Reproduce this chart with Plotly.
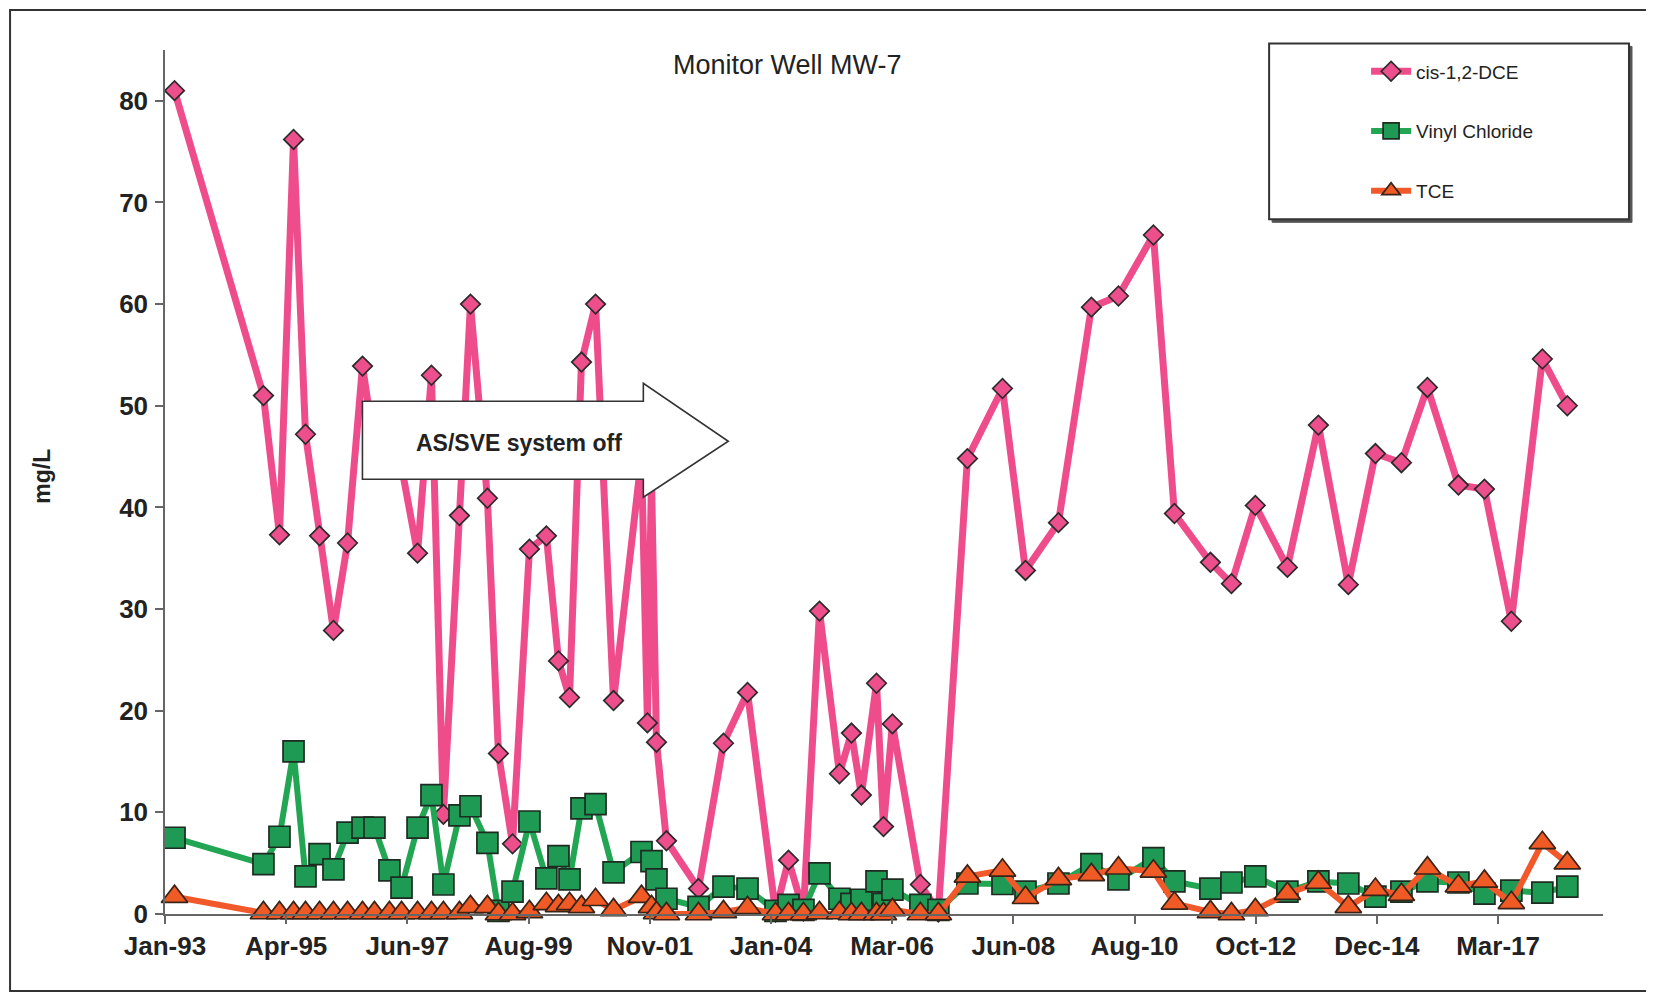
import plotly.graph_objects as go

# ---------------- data ----------------
sample_dates = [
    "1993-03-25", "1994-11-03", "1995-02-17", "1995-05-21", "1995-08-08", "1995-11-09",
    "1996-02-09", "1996-05-12", "1996-08-19", "1996-11-06", "1997-02-13", "1997-05-04",
    "1997-08-18", "1997-11-18", "1998-02-05", "1998-05-22", "1998-08-03", "1998-11-23",
    "1999-02-04", "1999-05-08", "1999-08-28", "1999-12-18", "2000-03-07", "2000-05-19",
    "2000-08-06", "2000-11-07", "2001-03-06", "2001-09-07", "2001-10-16", "2001-11-12",
    "2001-12-15", "2002-02-19", "2002-09-19", "2003-03-03", "2003-08-09", "2004-02-10",
    "2004-05-06", "2004-08-13", "2004-11-27", "2005-04-08", "2005-06-26", "2005-08-31",
    "2005-12-09", "2006-01-24", "2006-03-24", "2006-09-25", "2007-01-22", "2007-08-02",
    "2008-03-21", "2008-08-20", "2009-03-26", "2009-10-30", "2010-04-27", "2010-12-14",
    "2011-05-02", "2011-12-26", "2012-05-13", "2012-10-18", "2013-05-18", "2013-12-09",
    "2014-06-25", "2014-12-21", "2015-06-11", "2015-11-30", "2016-06-22", "2016-12-11",
    "2017-06-07", "2017-12-29", "2018-06-12",
]

cis_dce = [
    81, 51, 37.3, 76.2, 47.2, 37.2, 27.9, 36.5, 53.9, 46, 48, 44,
    35.5, 53, 9.8, 39.2, 60, 40.9, 15.8, 6.9, 35.9, 37.2, 24.9, 21.3,
    54.3, 60, 21, 45, 18.8, 43, 16.9, 7.2, 2.5, 16.8, 21.8, 0.2,
    5.3, 0.3, 29.8, 13.8, 17.8, 11.7, 22.7, 8.6, 18.7, 2.9, 0.2, 44.8,
    51.7, 33.8, 38.5, 59.7, 60.8, 66.8, 39.4, 34.6, 32.5, 40.2, 34.1, 48.1,
    32.4, 45.3, 44.4, 51.8, 42.2, 41.8, 28.8, 54.6, 50,
]

vinyl_chloride = [
    7.5, 4.9, 7.6, 16.0, 3.7, 5.9, 4.4, 8.0, 8.5, 8.5, 4.3, 2.6,
    8.5, 11.7, 2.9, 9.7, 10.6, 7.0, 0.3, 2.2, 9.1, 3.5, 5.7, 3.4,
    10.4, 10.8, 4.1, 6.1, None, 5.2, 3.4, 1.5, 0.7, 2.7, 2.5, 0.3,
    0.9, 0.4, 4.0, 1.5, 1.0, 1.4, 3.2, 1.0, 2.4, 0.9, 0.4, 3.0,
    2.95, 2.2, 3.0, 4.9, 3.4, 5.5, 3.2, 2.5, 3.1, 3.7, 2.2, 3.2,
    3.0, 1.7, 2.2, 3.2, 3.1, 2.0, 2.3, 2.1, 2.7,
]

tce = [
    1.7, 0.1, 0.1, 0.1, 0.1, 0.1, 0.1, 0.1, 0.1, 0.1, 0.1, 0.1,
    0.1, 0.1, 0.1, 0.1, 0.7, 0.7, 0.0, 0.0, 0.2, 1.0, 0.8, 1.0,
    0.7, 1.4, 0.4, 1.7, None, 0.7, 0.1, 0.0, 0.0, 0.2, 0.6, 0.0,
    0.0, 0.0, 0.1, 0.1, 0.0, 0.0, 0.0, 0.0, 0.4, 0.0, 0.0, 3.7,
    4.3, 1.6, 3.45, 3.85, 4.5, 4.2, 1.05, 0.2, 0.0, 0.4, 2.0, 3.1,
    0.7, 2.4, 1.9, 4.5, 2.75, 3.2, 1.1, 7.0, 5.0,
]

tick_dates = [
    "1993-01-21", "1995-04-02", "1997-06-12", "1999-08-22", "2001-11-01", "2004-01-11",
    "2006-03-22", "2008-06-01", "2010-08-11", "2012-10-21", "2014-12-31", "2017-03-11",
]
tick_labels = [
    "Jan-93", "Apr-95", "Jun-97", "Aug-99", "Nov-01", "Jan-04",
    "Mar-06", "Jun-08", "Aug-10", "Oct-12", "Dec-14", "Mar-17",
]
y_ticks = [0, 10, 20, 30, 40, 50, 60, 70, 80]
x_range = ["1993-01-21", "2019-02-03"]
y_range = [0, 85]

FONT = "Liberation Sans, Arial, sans-serif"
TXT = "#222222"

fig = go.Figure()

fig.add_trace(go.Scatter(
    x=sample_dates, y=cis_dce, name="cis-1,2-DCE", legendgroup="a",
    mode="lines+markers", connectgaps=True, cliponaxis=False,
    line=dict(color="#EF4C8B", width=7),
    marker=dict(symbol="diamond", size=15, color="#EC4F8B",
                line=dict(color="#2b2b2b", width=1.7)),
))
fig.add_trace(go.Scatter(
    x=sample_dates, y=vinyl_chloride, name="Vinyl Chloride", legendgroup="b",
    mode="lines+markers", connectgaps=True, cliponaxis=False,
    line=dict(color="#23A654", width=6),
    marker=dict(symbol="square", size=21, color="#1E9A55",
                line=dict(color="#1d2b20", width=1.7)),
))
fig.add_trace(go.Scatter(
    x=sample_dates, y=tce, name="TCE", legendgroup="c",
    mode="lines+markers", connectgaps=True, cliponaxis=False,
    line=dict(color="#F2592A", width=6),
    marker=dict(symbol="triangle-up", size=23, color="#F05A24",
                line=dict(color="#3a2418", width=1.7)),
))

# The page body has an 8px margin, so the figure is drawn 8px smaller and the
# layout below is expressed in page pixels of the reference.
OFF = 8
PL, PR, PT, PB = 164.5, 1603.0, 49.6, 914.0   # plot area in page pixels
W, H = 1654 - OFF, 995 - OFF


def px(x):
    return (x - PL) / (PR - PL)


def py(y):
    return (PB - y) / (PB - PT)


shapes = []
# outer frame
shapes.append(dict(type="rect", xref="paper", yref="paper",
                   x0=px(9.5), x1=px(1649), y0=py(991), y1=py(9.5),
                   line=dict(color="#333333", width=2), fillcolor="rgba(0,0,0,0)",
                   layer="below"))
# legend box (shadow + box)
shapes.append(dict(type="rect", xref="paper", yref="paper",
                   x0=px(1272), x1=px(1632), y0=py(222), y1=py(46),
                   line=dict(color="#555555", width=1), fillcolor="#555555", layer="above"))
shapes.append(dict(type="rect", xref="paper", yref="paper",
                   x0=px(1269), x1=px(1629), y0=py(219), y1=py(43),
                   line=dict(color="#333333", width=2), fillcolor="white", layer="above"))
# block arrow "AS/SVE system off"
arrow_pts = [(362, 401), (643, 401), (643, 383), (728, 441), (643, 497), (643, 479), (362, 479)]
path = "M " + " L ".join(f"{px(a):.5f},{py(b):.5f}" for a, b in arrow_pts) + " Z"
shapes.append(dict(type="path", xref="paper", yref="paper", path=path,
                   fillcolor="white", line=dict(color="#333333", width=1.6), layer="above"))

fig.update_layout(
    width=W, height=H,
    margin=dict(l=PL - OFF, r=W - (PR - OFF), t=PT - OFF, b=H - (PB - OFF), autoexpand=False),
    paper_bgcolor="white", plot_bgcolor="white",
    font=dict(family=FONT, color=TXT),
    title=dict(text="Monitor Well MW-7", xref="paper", x=px(787), xanchor="center",
               yref="container", y=1 - (65 - OFF) / H, yanchor="middle",
               font=dict(family=FONT, size=27, color=TXT)),
    showlegend=True,
    legend=dict(x=px(1366), xanchor="left", y=py(52), yanchor="top",
                bgcolor="rgba(0,0,0,0)", borderwidth=0,
                font=dict(family=FONT, size=19, color=TXT),
                traceorder="grouped", tracegroupgap=32, itemwidth=40),
    shapes=shapes,
    annotations=[
        dict(text="AS/SVE system off", xref="paper", yref="paper",
             x=px(519), y=py(443), xanchor="center", yanchor="middle", showarrow=False,
             font=dict(family=FONT, size=23, color=TXT, weight="bold")),
        dict(text="mg/L", xref="paper", yref="paper", textangle=-90,
             x=px(42), y=py(476), xanchor="center", yanchor="middle", showarrow=False,
             font=dict(family=FONT, size=23, color=TXT, weight="bold")),
    ],
)

fig.update_xaxes(
    type="date", range=x_range, tickvals=tick_dates, ticktext=tick_labels,
    showgrid=False, zeroline=False, showline=True, linecolor="#666666", linewidth=1.5,
    ticks="outside", ticklen=8, tickwidth=1.5, tickcolor="#666666",
    tickfont=dict(family=FONT, size=26, color=TXT, weight="bold"),
)
fig.update_yaxes(
    range=y_range, tickvals=y_ticks,
    showgrid=False, zeroline=False, showline=True, linecolor="#666666", linewidth=1.5,
    ticks="outside", ticklen=8, tickwidth=1.5, tickcolor="#666666",
    ticklabelstandoff=2,
    tickfont=dict(family=FONT, size=26, color=TXT, weight="bold"),
)

fig.write_html("out.html")
